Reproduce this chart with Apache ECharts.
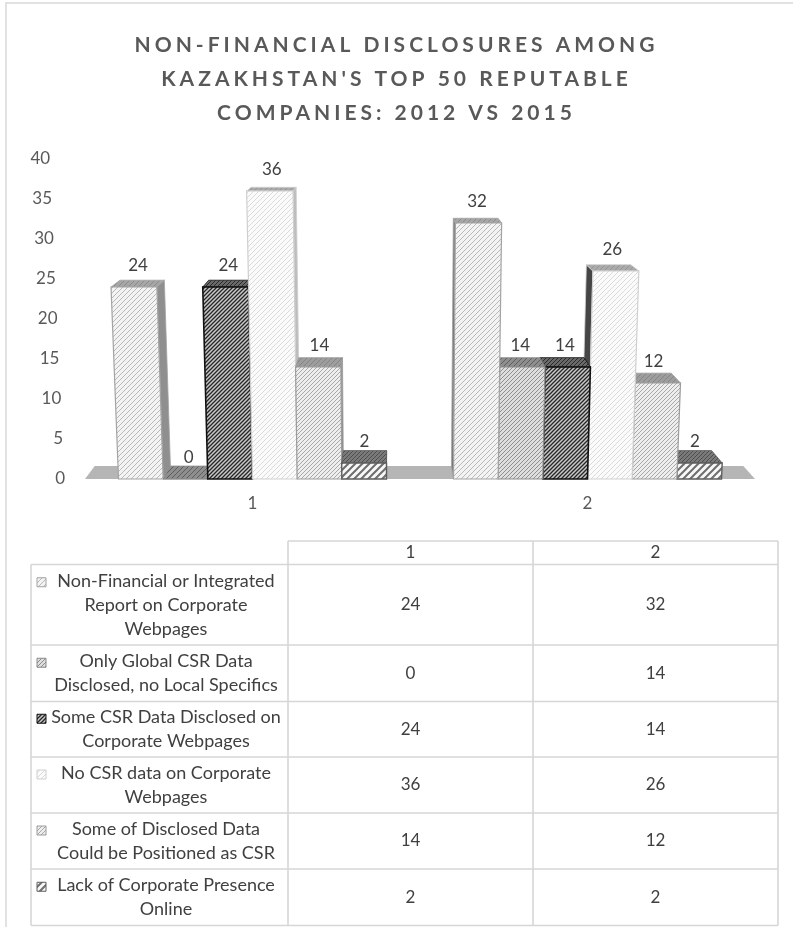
<!DOCTYPE html>
<html>
<head>
<meta charset="utf-8">
<title>Non-financial disclosures among Kazakhstan's top 50 reputable companies</title>
<script src="https://cdn.jsdelivr.net/npm/echarts@6.0.0/dist/echarts.min.js"></script>
<style>
  html, body { margin: 0; padding: 0; background: #ffffff; }
  #chart { width: 793px; height: 927px; }
</style>
</head>
<body>
<div id="chart"></div>
<script>
// ---------------- data ----------------
const categories = ['1', '2'];
const seriesLabels = [
  'Non-Financial or Integrated\nReport on Corporate\nWebpages',
  'Only Global CSR Data\nDisclosed, no Local Specifics',
  'Some CSR Data Disclosed on\nCorporate Webpages',
  'No CSR data on Corporate\nWebpages',
  'Some of Disclosed Data\nCould be Positioned as CSR',
  'Lack of Corporate Presence\nOnline'
];
const nonFinancialReport = [24, 32];
const globalDataOnly = [0, 14];
const someCsrDisclosed = [24, 14];
const noCsrData = [36, 26];
const positionedAsCsr = [14, 12];
const noOnlinePresence = [2, 2];
const yTicks = [0, 5, 10, 15, 20, 25, 30, 35, 40];
const titleText = "NON-FINANCIAL DISCLOSURES AMONG\nKAZAKHSTAN'S TOP 50 REPUTABLE\nCOMPANIES: 2012 VS 2015";

const seriesValues = [nonFinancialReport, globalDataOnly, someCsrDisclosed, noCsrData, positionedAsCsr, noOnlinePresence];
const N = seriesValues.length;

// ---------------- tracked title lettering ----------------
(function () {
  const proto = CanvasRenderingContext2D.prototype;
  const fill = proto.fillText;
  proto.fillText = function (text, x, y, maxWidth) {
    const call = () => (maxWidth === undefined ? fill.call(this, text, x, y) : fill.call(this, text, x, y, maxWidth));
    if ('letterSpacing' in this && /bold/.test(this.font) && /(^|\s)21px/.test(this.font)) {
      const prev = this.letterSpacing;
      this.letterSpacing = '4px';
      const r = call();
      this.letterSpacing = prev;
      return r;
    }
    return call();
  };
})();

// ---------------- look ----------------
const FONT = 'Lato';
const W = 793, H = 927;
const GRID = { left: 85, right: 38, top: 159, bottom: 448 };
const CLUSTER = 0.8;                 // share of a category band taken by its bars
const VP = [390, 75], DEPTH = 0.032; // depth vanishing point for the 3-D faces
const KEY_X = 400, KEY_K = 7236;     // vertical lines converge slightly towards a point far below

function hatch(bg, fg, step, lw) {
  const c = document.createElement('canvas');
  c.width = c.height = step;
  const g = c.getContext('2d');
  g.fillStyle = bg;
  g.fillRect(0, 0, step, step);
  g.strokeStyle = fg;
  g.lineWidth = lw;
  g.beginPath();
  g.moveTo(-1, step + 1); g.lineTo(step + 1, -1);
  g.moveTo(-1, 1); g.lineTo(1, -1);
  g.moveTo(step - 1, step + 1); g.lineTo(step + 1, step - 1);
  g.stroke();
  return { image: c, repeat: 'repeat' };
}

const styles = [
  { front: hatch('#f3f3f3', '#b9b9b9', 5, 1),   stroke: '#a3a3a3', lw: 1.2, top: hatch('#a6a6a6', '#8a8a8a', 5, 1), sideR: '#8f8f8f', sideL: '#7a7a7a' },
  { front: hatch('#dedede', '#8e8e8e', 4, 1),   stroke: '#8a8a8a', lw: 1.2, top: hatch('#8e8e8e', '#5e5e5e', 5, 1), sideR: '#6f6f6f', sideL: '#5a5a5a' },
  { front: hatch('#c8c8c8', '#262626', 4, 1.3), stroke: '#111111', lw: 1.6, top: hatch('#6a6a6a', '#2a2a2a', 4, 1), sideR: '#3c3c3c', sideL: '#2a2a2a' },
  { front: hatch('#fbfbfb', '#dadada', 5, 1),   stroke: '#cfcfcf', lw: 1.2, top: hatch('#ababab', '#959595', 5, 1), sideR: '#bdbdbd', sideL: '#454545' },
  { front: hatch('#eeeeee', '#a8a8a8', 4, 1),   stroke: '#9c9c9c', lw: 1.2, top: hatch('#9d9d9d', '#858585', 5, 1), sideR: '#8c8c8c', sideL: '#7c7c7c' },
  { front: hatch('#f8f8f8', '#6e6e6e', 7, 2),   stroke: '#5e5e5e', lw: 1.4, top: hatch('#7a7a7a', '#4e4e4e', 4, 1), sideR: '#555555', sideL: '#555555' }
];

function lean(x, y, y0) { return [x + (x - KEY_X) * (y0 - y) / KEY_K, y]; }
function back(p) { return [p[0] + (VP[0] - p[0]) * DEPTH, p[1] + (VP[1] - p[1]) * DEPTH]; }
function poly(points, style, z2) { return { type: 'polygon', shape: { points }, style, z2 }; }

function makeBarRenderer(k) {
  const st = styles[k];
  return function (params, api) {
    const ci = api.value(0), v = api.value(1);
    const base = api.coord([ci, 0]);
    const top = api.coord([ci, v]);
    const band = api.size([1, 0])[0];
    const w = band * CLUSTER / N;
    const xL = base[0] - band * CLUSTER / 2 + k * w, xR = xL + w;
    const y0 = base[1], yT = top[1];
    const BL = [xL, y0], BR = [xR, y0];
    const TL = lean(xL, yT, y0), TR = lean(xR, yT, y0);
    const bTL = back(TL), bTR = back(TR), bBL = back(BL), bBR = back(BR);
    // nearer-to-centre bars are painted last so they cover neighbouring side faces
    const z = (ci === 0 ? k : N - 1 - k) * 4;
    const kids = [];
    if (xR < VP[0]) kids.push(poly([BR, TR, bTR, bBR], { fill: st.sideR, stroke: st.stroke, lineWidth: 0.8 }, z));
    else if (xL > VP[0]) kids.push(poly([BL, TL, bTL, bBL], { fill: st.sideL, stroke: st.stroke, lineWidth: 0.8 }, z));
    kids.push(poly([TL, TR, bTR, bTL], { fill: st.top, stroke: st.stroke, lineWidth: 0.8 }, z + 1));
    kids.push(poly([BL, BR, TR, TL], { fill: st.front, stroke: st.stroke, lineWidth: st.lw }, z + 2));
    kids.push({
      type: 'text', z2: 100,
      style: {
        text: String(v),
        x: (TL[0] + TR[0] + bTL[0] + bTR[0]) / 4, y: yT - 21,
        align: 'center', verticalAlign: 'middle', textAlign: 'center', textVerticalAlign: 'middle',
        fontFamily: FONT, fontSize: 17, fill: '#404040'
      }
    });
    return { type: 'group', children: kids };
  };
}

// y-axis labels follow the slightly leaning back edge of the plot
const plotH = H - GRID.top - GRID.bottom;
const LABEL_MARGIN = 20;
const labelRight = GRID.left - LABEL_MARGIN;
const yMax = yTicks[yTicks.length - 1];
const yRich = {};
yTicks.forEach(t => {
  yRich['t' + t] = {
    fontFamily: FONT, fontSize: 17, color: '#595959',
    padding: [0, (KEY_X - labelRight) * (t / yMax * plotH) / KEY_K, 0, 0]
  };
});

// ---------------- data table ----------------
const TABLE = { left: 31, cols: [288, 533, 778], headTop: 541, rows: [564.5, 645, 701.5, 757, 813, 869, 925.5] };
const LINE_H = 24;
const lineStyle = { stroke: '#d6d6d6', lineWidth: 1.6 };
const graphics = [];
function hLine(x1, x2, y) { graphics.push({ type: 'line', silent: true, shape: { x1, y1: y, x2, y2: y }, style: lineStyle }); }
function vLine(x, y1, y2) { graphics.push({ type: 'line', silent: true, shape: { x1: x, y1, x2: x, y2 }, style: lineStyle }); }
function label(text, x, y, size) {
  graphics.push({
    type: 'text', silent: true, x, y,
    style: {
      text, fill: '#404040', fontFamily: FONT, fontSize: size, lineHeight: LINE_H,
      align: 'center', verticalAlign: 'middle', textAlign: 'center', textVerticalAlign: 'middle'
    }
  });
}

// chart frame
graphics.push({ type: 'rect', silent: true, shape: { x: 6, y: 3, width: 900, height: 1000 }, style: { fill: 'none', stroke: '#d9d9d9', lineWidth: 1.5 } });

const [c1, c2, c3] = TABLE.cols;
const rows = TABLE.rows;
hLine(c1, c3, TABLE.headTop);
rows.forEach(y => hLine(TABLE.left, c3, y));
vLine(TABLE.left, rows[0], rows[rows.length - 1]);
TABLE.cols.forEach(x => vLine(x, TABLE.headTop, rows[rows.length - 1]));
categories.forEach((c, i) => label(c, (TABLE.cols[i] + TABLE.cols[i + 1]) / 2, (TABLE.headTop + rows[0]) / 2, 17));

seriesLabels.forEach((name, k) => {
  const yc = (rows[k] + rows[k + 1]) / 2;
  const nLines = name.split('\n').length;
  const firstLine = yc - (nLines - 1) * LINE_H / 2;
  label(name, 166, yc, 18);
  graphics.push({
    type: 'rect', silent: true,
    shape: { x: 37, y: firstLine - 3, width: 9, height: 9 },
    style: { fill: styles[k].front, stroke: styles[k].stroke, lineWidth: 1 }
  });
  seriesValues[k].forEach((v, i) => label(String(v), (TABLE.cols[i] + TABLE.cols[i + 1]) / 2, yc, 17));
});

// ---------------- chart ----------------
const series = [{
  type: 'custom', name: 'floor', silent: true, z: 1,
  data: [[0, 0]],
  renderItem(params, api) {
    const cs = params.coordSys;
    const y0 = api.coord([0, 0])[1];
    const FL = [cs.x, y0], FR = [cs.x + cs.width, y0];
    return poly([FL, FR, back(FR), back(FL)], { fill: '#b5b5b5' }, 0);
  }
}];
seriesValues.forEach((vals, k) => {
  series.push({
    type: 'custom',
    name: seriesLabels[k].replace(/\n/g, ' '),
    z: 2,
    data: vals.map((v, i) => [i, v]),
    encode: { x: 0, y: 1 },
    renderItem: makeBarRenderer(k)
  });
});

const chart = echarts.init(document.getElementById('chart'), null, { renderer: 'canvas', width: W, height: H });
chart.setOption({
  animation: false,
  backgroundColor: '#ffffff',
  title: {
    text: titleText,
    left: 'center', top: 28, padding: [0, 0, 0, 14],
    textStyle: { fontFamily: FONT, fontWeight: 'bold', fontSize: 21, color: '#595959', lineHeight: 34 }
  },
  grid: Object.assign({ containLabel: false, outerBoundsMode: 'none' }, GRID),
  xAxis: {
    type: 'category', data: categories,
    axisLine: { show: false }, axisTick: { show: false }, splitLine: { show: false },
    axisLabel: { margin: 16, fontFamily: FONT, fontSize: 17, color: '#595959' }
  },
  yAxis: {
    type: 'value', min: 0, max: yMax, interval: 5,
    axisLine: { show: false }, axisTick: { show: false }, splitLine: { show: false },
    axisLabel: { margin: LABEL_MARGIN, formatter: v => '{t' + v + '|' + v + '}', rich: yRich }
  },
  series,
  graphic: graphics
});
</script>
</body>
</html>
